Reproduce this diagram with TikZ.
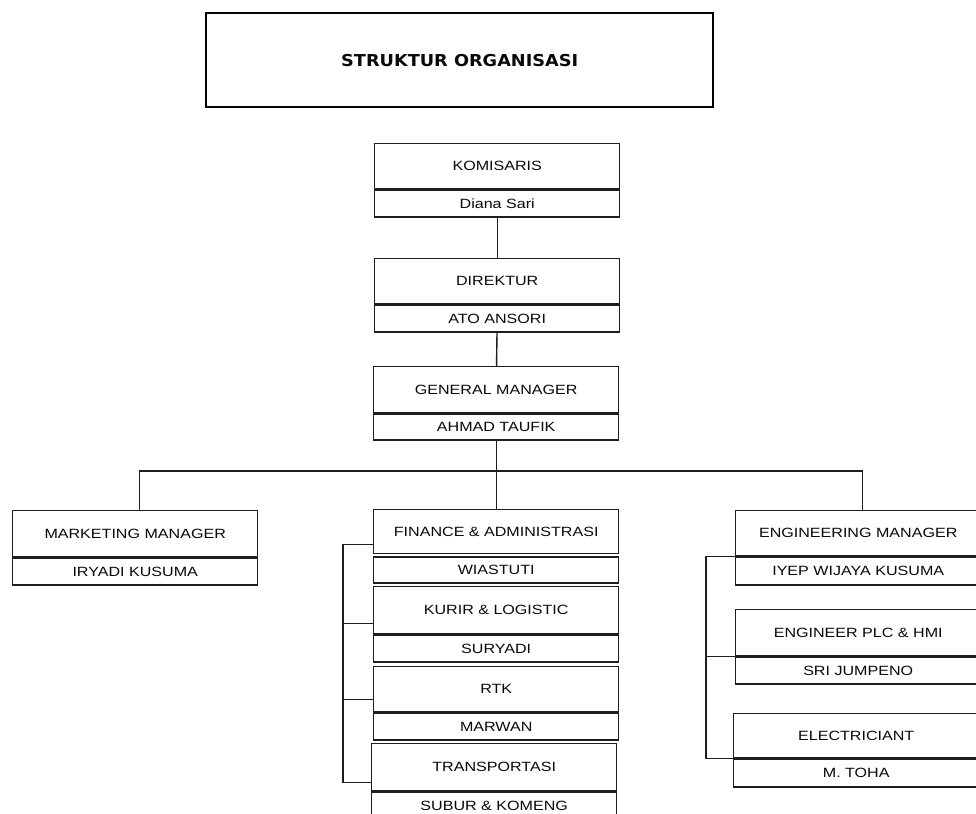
\documentclass[tikz,border=0pt]{standalone}
\usepackage{fontspec}
\usetikzlibrary{calc,positioning}
\newfontfamily\orgfont[FakeStretch=1.2]{Liberation Sans}
\newfontfamily\orgtitlefont[FakeStretch=1.08]{DejaVu Sans}
\definecolor{orgLine}{HTML}{1E1E1E}
\definecolor{orgInk}{HTML}{0A0A0A}

\begin{document}
\begin{tikzpicture}[x=1pt,y=-1pt,line join=miter]
\path[fill=white,use as bounding box] (0,0) rectangle (976,813);
\tikzset{role/.style={draw=orgLine,line width=1.4pt,fill=white,minimum width=245pt,minimum height=45pt,inner sep=0pt,anchor=north west,text=orgInk,font=\orgfont\fontsize{13.4}{15}\selectfont},person/.style={role,minimum height=27pt,anchor=north},link/.style={draw=orgLine,line width=1.4pt}}
\node[draw=black,line width=2.4pt,minimum width=507pt,minimum height=94pt,anchor=north west,text=orgInk,font=\orgtitlefont\bfseries\fontsize{16.4}{18}\selectfont] (title) at (205,12) {STRUKTUR ORGANISASI};
% top line
\node[role] (kom) at (374,143) {KOMISARIS}; \node[person] (komN) at (kom.south) {Diana Sari};
\node[role] (dir) at (374,258) {DIREKTUR}; \node[person] (dirN) at (dir.south) {ATO ANSORI};
\node[role,minimum height=46pt] (gm) at (373,366) {GENERAL MANAGER}; \node[person,minimum height=26pt] (gmN) at (gm.south) {AHMAD TAUFIK};
% managers
\node[role,minimum height=46pt] (mkt) at (12,510) {MARKETING MANAGER}; \node[person] (mktN) at (mkt.south) {IRYADI KUSUMA};
\node[role,minimum height=44pt] (fin) at (373,509) {FINANCE \& ADMINISTRASI}; \node[person,minimum height=26pt] (finN) at ([yshift=-2pt]fin.south) {WIASTUTI};
\node[role,minimum height=47pt] (kur) at (373,586) {KURIR \& LOGISTIC}; \node[person] (kurN) at (kur.south) {SURYADI};
\node[role] (rtk) at (373,666) {RTK}; \node[person] (rtkN) at (rtk.south) {MARWAN};
\node[role,minimum height=47pt] (tra) at (371,743) {TRANSPORTASI}; \node[person] (traN) at (tra.south) {SUBUR \& KOMENG};
\node[role] (eng) at (735,510) {ENGINEERING MANAGER}; \node[person,minimum height=28pt] (engN) at (eng.south) {IYEP WIJAYA KUSUMA};
\node[role,minimum height=46pt] (plc) at (735,609) {ENGINEER PLC \& HMI}; \node[person] (plcN) at (plc.south) {SRI JUMPENO};
\node[role,minimum height=44pt] (ele) at (733,713) {ELECTRICIANT}; \node[person,minimum height=28pt] (eleN) at (ele.south) {M. TOHA};
% connectors
\draw[link] (komN) -- (dir); \draw[link] (dirN) -- (gm); \draw[link] (gmN) -- (fin);
\coordinate (bus) at (495.5,471);
\draw[link] ([xshift=4pt]mkt.north) |- (bus) -| ([xshift=4pt]eng.north);
\draw[link] ([yshift=10pt]fin.south west) -- ++(-30,0) |- ([yshift=9pt]tra.south west);
\draw[link] ([yshift=11pt]kur.south west) -- ++(-30,0); \draw[link] ([yshift=13pt]rtk.south west) -- ++(-30,0);
\draw[link] (eng.south west) -- ++(-29,0) |- (ele.south west); \draw[link] (plc.south west) -- ++(-29,0);
\end{tikzpicture}
\end{document}
